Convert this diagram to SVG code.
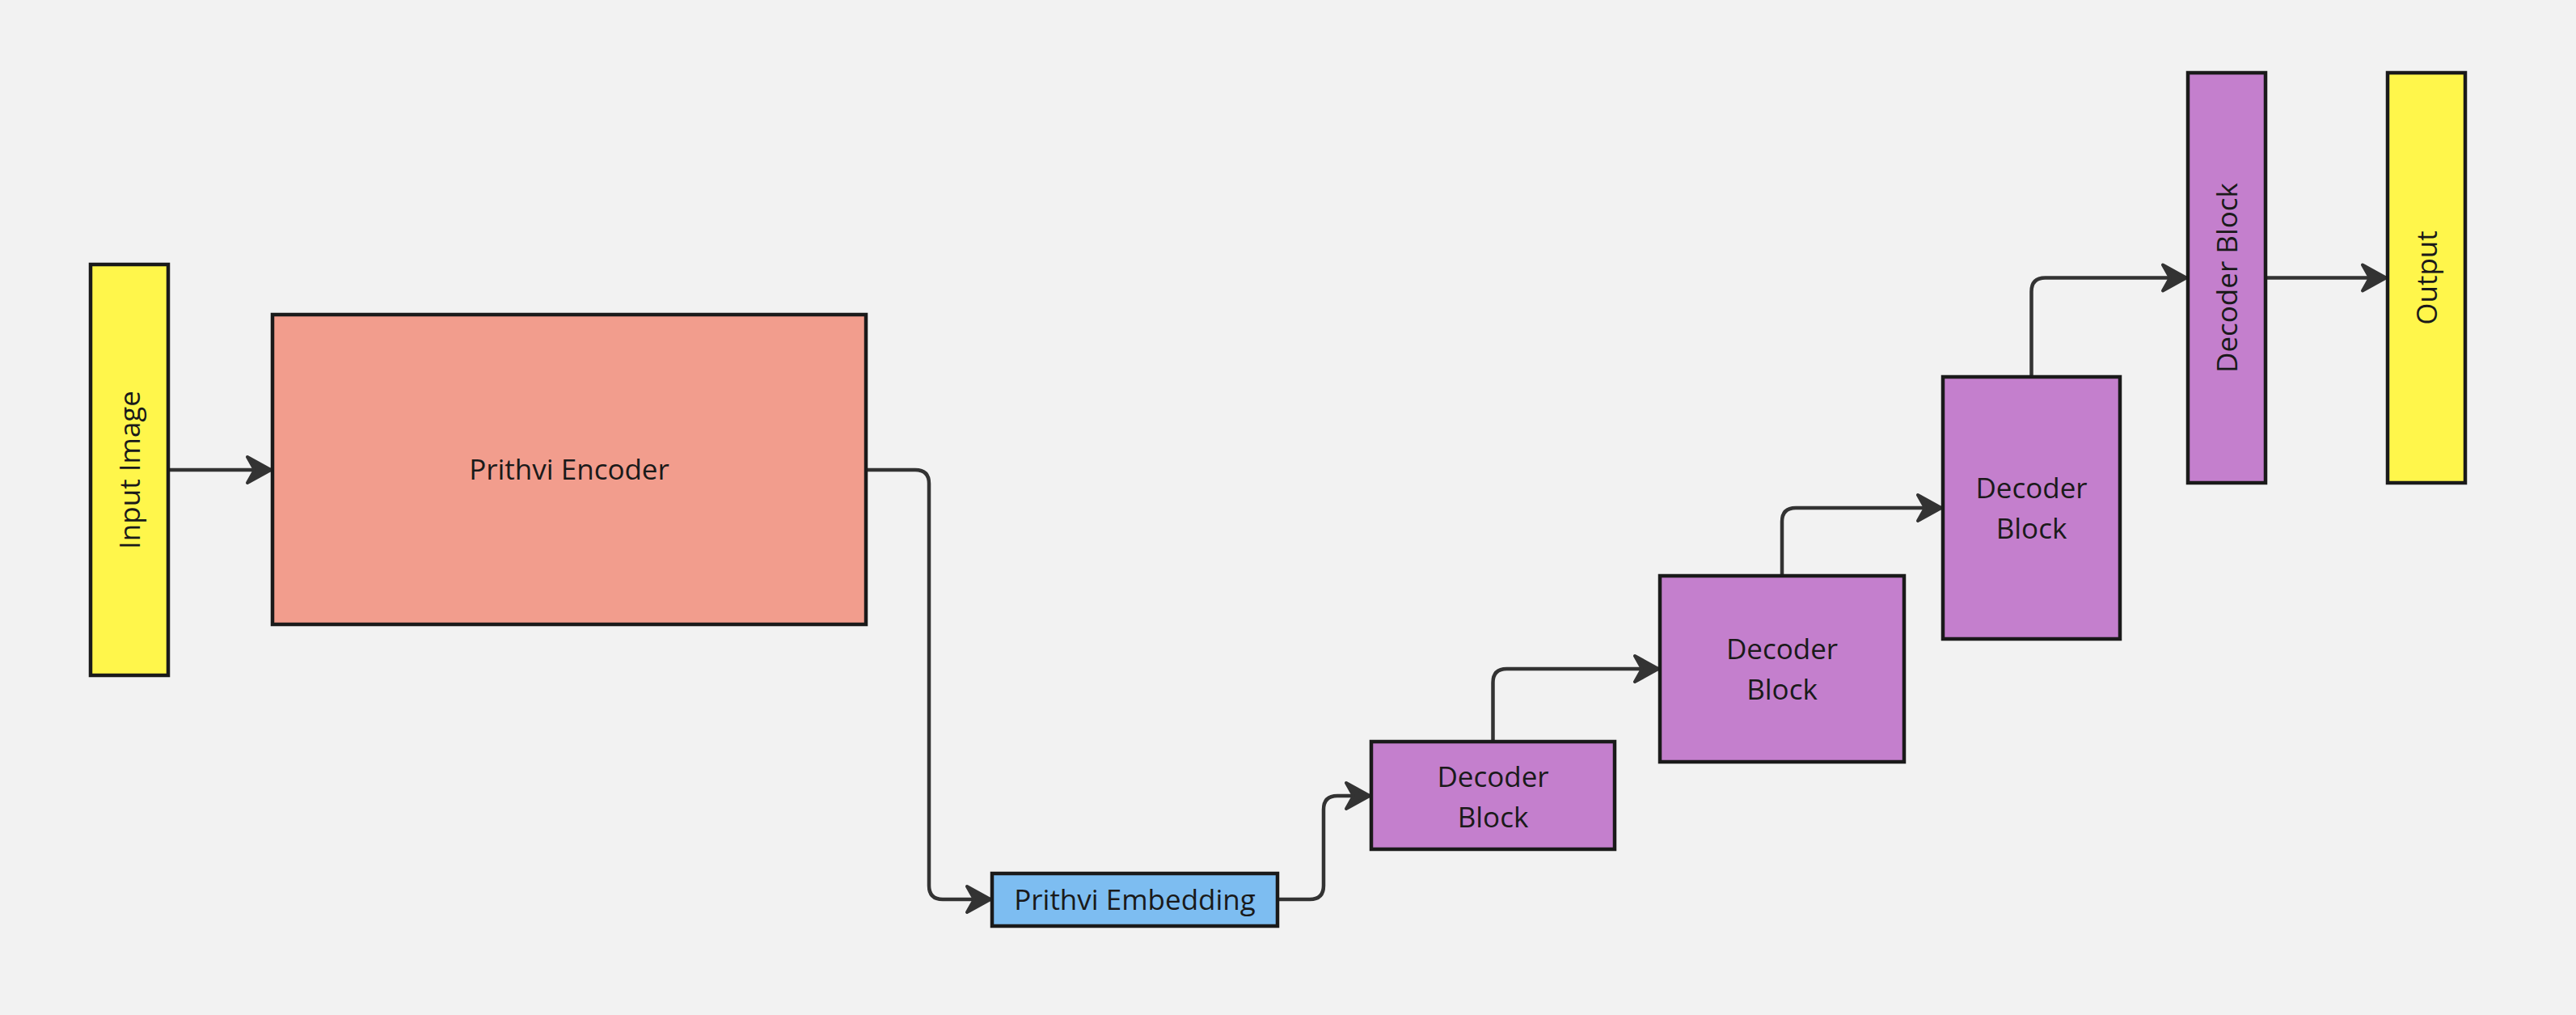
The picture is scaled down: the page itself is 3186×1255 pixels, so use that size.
<svg xmlns="http://www.w3.org/2000/svg" width="3186" height="1255" viewBox="0 0 3186 1255">
<style>
.node{stroke:#1a1a1a;stroke-width:4.5}
.yellow{fill:#fff64b}
.salmon{fill:#f29d8d}
.purple{fill:#c47fcd}
.blue{fill:#7dbdf1}
.lbl{font-family:"Open Sans","Liberation Sans",sans-serif;font-size:35px;fill:#1a1a1a;text-anchor:middle}
.conn{fill:none;stroke:#333333;stroke-width:4.5;stroke-linejoin:round}
</style>
<defs>
<marker id="ah" markerUnits="userSpaceOnUse" markerWidth="40" markerHeight="44" viewBox="-34 -22 40 44" refX="0" refY="0" orient="auto">
<path d="M0,0 L-29,-16 L-20,0 L-29,16 Z" fill="#333333" stroke="#333333" stroke-width="4" stroke-linejoin="round"/>
</marker>
</defs>
<rect x="0" y="0" width="3186" height="1255" fill="#f2f2f2"/>
<g id="connectors">
<path class="conn" marker-end="url(#ah)" d="M208,581 L335,581"/>
<path class="conn" marker-end="url(#ah)" d="M1071,581 L1132,581 Q1149,581 1149,598 L1149,1095 Q1149,1112 1166,1112 L1225,1112"/>
<path class="conn" marker-end="url(#ah)" d="M1580,1112 L1620,1112 Q1637,1112 1637,1095 L1637,1001 Q1637,984 1654,984 L1694,984"/>
<path class="conn" marker-end="url(#ah)" d="M1846.5,917 L1846.5,844 Q1846.5,827 1863.5,827 L2051,827"/>
<path class="conn" marker-end="url(#ah)" d="M2204,712 L2204,645 Q2204,628 2221,628 L2401,628"/>
<path class="conn" marker-end="url(#ah)" d="M2512.5,466 L2512.5,360.5 Q2512.5,343.5 2529.5,343.5 L2704,343.5"/>
<path class="conn" marker-end="url(#ah)" d="M2802,343.5 L2951,343.5"/>
</g>
<g id="input-image">
<rect class="node yellow" x="112" y="327" width="96" height="508"/>
<text class="lbl" transform="translate(160,581) rotate(-90)" x="0" y="12.5">Input Image</text>
</g>
<g id="prithvi-encoder">
<rect class="node salmon" x="337" y="389" width="734" height="383"/>
<text class="lbl" x="704" y="593">Prithvi Encoder</text>
</g>
<g id="prithvi-embedding">
<rect class="node blue" x="1227" y="1080" width="353" height="65"/>
<text class="lbl" x="1403.5" y="1125">Prithvi Embedding</text>
</g>
<g id="decoder-block-1">
<rect class="node purple" x="1696" y="917" width="301" height="133"/>
<text class="lbl" x="1846.5" y="972.5">Decoder</text>
<text class="lbl" x="1846.5" y="1022.5">Block</text>
</g>
<g id="decoder-block-2">
<rect class="node purple" x="2053" y="712" width="302" height="230"/>
<text class="lbl" x="2204" y="814.5">Decoder</text>
<text class="lbl" x="2204" y="864.5">Block</text>
</g>
<g id="decoder-block-3">
<rect class="node purple" x="2403" y="466" width="219" height="324"/>
<text class="lbl" x="2512.5" y="615.5">Decoder</text>
<text class="lbl" x="2512.5" y="665.5">Block</text>
</g>
<g id="decoder-block-4">
<rect class="node purple" x="2706" y="90" width="96" height="507"/>
<text class="lbl" transform="translate(2754,343.5) rotate(-90)" x="0" y="12.5">Decoder Block</text>
</g>
<g id="output">
<rect class="node yellow" x="2953" y="90" width="96" height="507"/>
<text class="lbl" transform="translate(3001,343.5) rotate(-90)" x="0" y="12.5">Output</text>
</g>
</svg>
